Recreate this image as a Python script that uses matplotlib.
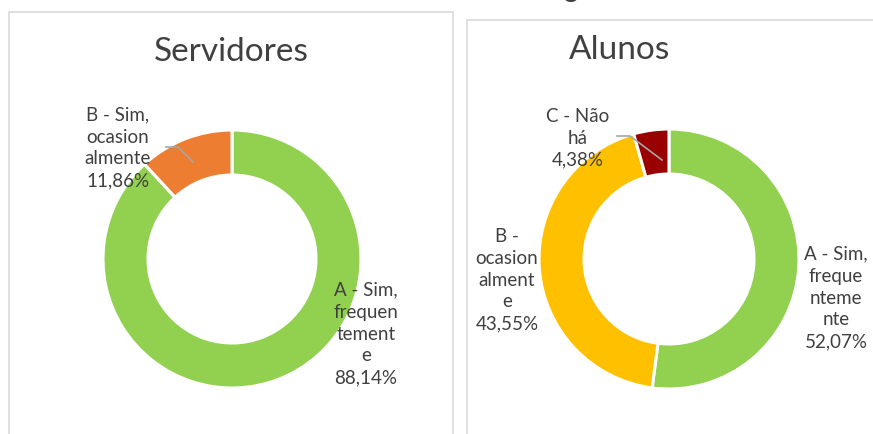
import matplotlib
matplotlib.use("Agg")
import matplotlib.pyplot as plt
from matplotlib.patches import Rectangle

plt.rcParams['font.family'] = ['Lato', 'DejaVu Sans']

# Data
serv_labels = ["A - Sim,\nfrequen\ntement\ne\n88,14%", "B - Sim,\nocasion\nalmente\n11,86%"]
serv_values = [88.14, 11.86]
serv_colors = ["#92D050", "#ED7D31"]

alun_labels = ["A - Sim,\nfreque\nnteme\nnte\n52,07%", "B -\nocasion\nalment\ne\n43,55%", "C - Não\nhá\n4,38%"]
alun_values = [52.07, 43.55, 4.38]
alun_colors = ["#92D050", "#FFC000", "#990000"]

titles = ["Servidores", "Alunos"]

W, H = 873, 434
fig = plt.figure(figsize=(W / 100, H / 100), dpi=100)
ax = fig.add_axes([0, 0, 1, 1])
ax.set_xlim(0, W)
ax.set_ylim(0, H)
ax.axis("off")

def Y(py):
    return H - py

txt = "#404040"
border = "#D9D9D9"

# panel borders
ax.add_patch(Rectangle((9, Y(440)), 444, 428, fill=False, edgecolor=border, lw=1.2))
ax.add_patch(Rectangle((467, Y(440)), 420, 420, fill=False, edgecolor=border, lw=1.2))

# cropped title remnant at top
ax.text(570, Y(-3), "g", fontsize=20, color=txt, ha="center", va="baseline")

# donuts
ax.pie(serv_values, colors=serv_colors, startangle=90, counterclock=False,
       center=(232, Y(259)), radius=129, frame=True,
       wedgeprops=dict(width=45, edgecolor="white", linewidth=2.2))
ax.pie(alun_values, colors=alun_colors, startangle=90, counterclock=False,
       center=(669, Y(259)), radius=130, frame=True,
       wedgeprops=dict(width=45, edgecolor="white", linewidth=2.2))
ax.set_xlim(0, W)
ax.set_ylim(0, H)
ax.set_aspect("auto")
ax.axis("off")

# titles
ax.text(231, Y(52), titles[0], fontsize=24, color=txt, ha="center", va="center")
ax.text(620, Y(50), titles[1], fontsize=24, color=txt, ha="center", va="center")

lab_kw = dict(fontsize=13.5, color=txt, ha="center", va="center", linespacing=1.35)
ax.text(366, Y(334), serv_labels[0], **lab_kw)
ax.text(118, Y(148), serv_labels[1], **lab_kw)
ax.text(836, Y(298), alun_labels[0], **lab_kw)
ax.text(507, Y(280), alun_labels[1], **lab_kw)
ax.text(578, Y(138), alun_labels[2], **lab_kw)

# leader lines
lc = "#A6A6A6"
ax.plot([166, 178, 193], [Y(147), Y(147), Y(162)], color=lc, lw=1.2)
ax.plot([617, 630, 662], [Y(136), Y(136), Y(160)], color=lc, lw=1.2)

fig.savefig("out.png", dpi=100)
